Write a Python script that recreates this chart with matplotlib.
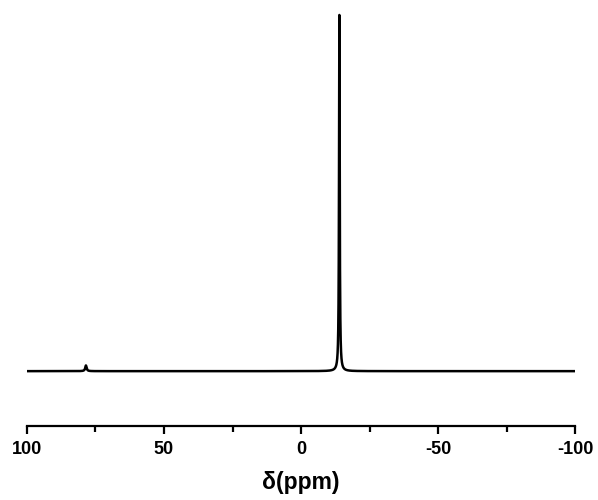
import numpy as np
import matplotlib
matplotlib.use("Agg")
import matplotlib.pyplot as plt
from matplotlib.ticker import MultipleLocator

# peak table: shift (ppm), relative height, half-width (ppm)
peak_shift = [-14.0, 78.5]
peak_height = [1.0, 0.016]
peak_hwhm = [0.15, 0.3]

ppm = np.linspace(100, -100, 16001)


def lorentz(x, x0, h, w):
    return h * w**2 / ((x - x0) ** 2 + w**2)


intensity = np.zeros_like(ppm)
for x0, h, w in zip(peak_shift, peak_height, peak_hwhm):
    intensity += lorentz(ppm, x0, h, w)

plt.rcParams['font.family'] = ['Liberation Sans', 'DejaVu Sans']
plt.rcParams['axes.unicode_minus'] = False

fig = plt.figure(figsize=(5.98, 5.00), dpi=100)
ax = fig.add_axes([27 / 598, 74 / 500, 548 / 598, 416 / 500])
ax.plot(ppm, intensity, color='black', lw=1.8)

ax.set_xlim(100, -100)
ax.set_ylim(-0.154, 1.014)
for side in ('top', 'right', 'left'):
    ax.spines[side].set_visible(False)
ax.spines['bottom'].set_linewidth(1.6)
ax.set_yticks([])
ax.xaxis.set_major_locator(MultipleLocator(50))
ax.xaxis.set_minor_locator(MultipleLocator(25))
ax.tick_params(axis='x', which='major', length=6, width=1.6, labelsize=13, pad=5)
ax.tick_params(axis='x', which='minor', length=4, width=1.6)
for lab in ax.get_xticklabels():
    lab.set_fontweight('bold')
ax.set_xlabel('δ(ppm)', fontsize=16.5, fontweight='bold', labelpad=9)

fig.savefig('out.png', dpi=100)
